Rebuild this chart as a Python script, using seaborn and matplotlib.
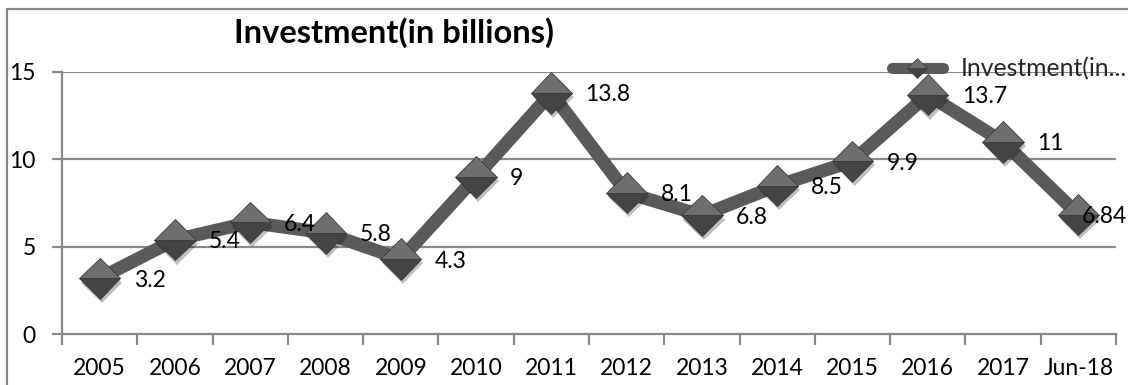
import matplotlib
matplotlib.use("Agg")
import matplotlib.pyplot as plt
from matplotlib.lines import Line2D
from matplotlib.patches import Rectangle
import matplotlib.patheffects as pe
import seaborn as sns
import pandas as pd

# Series data
periods = ["2005", "2006", "2007", "2008", "2009", "2010", "2011",
           "2012", "2013", "2014", "2015", "2016", "2017", "Jun-18"]
investment = [3.2, 5.4, 6.4, 5.8, 4.3, 9, 13.8, 8.1, 6.8, 8.5, 9.9, 13.7, 11, 6.84]
value_labels = ["3.2", "5.4", "6.4", "5.8", "4.3", "9", "13.8", "8.1", "6.8",
                "8.5", "9.9", "13.7", "11", "6.84"]
y_ticks = [0, 5, 10, 15]
series_name = "Investment(in billions)"
legend_text = "Investment(in..."

sns.set_theme(style="white")
plt.rcParams["font.family"] = ["Lato", "DejaVu Sans"]

W, H, DPI = 1128, 385, 100
FS = 16.5
LINE_C = "#5a5a5a"
TOP_C = "#6e6e6e"
BOT_C = "#444444"
AX_C = "#898989"

fig = plt.figure(figsize=(W / DPI, H / DPI), dpi=DPI)
ax = fig.add_axes([62 / W, 1 - 334.3 / H, (1116 - 62) / W, (334.3 - 72) / H])

df = pd.DataFrame({"period": periods, "investment": investment})

# thick connecting line
sns.lineplot(data=df, x="period", y="investment", ax=ax, sort=False,
             color=LINE_C, linewidth=9.5, solid_joinstyle="round",
             solid_capstyle="round", clip_on=False, zorder=3)

# diamond markers with a soft drop shadow
sns.lineplot(data=df, x="period", y="investment", ax=ax, sort=False,
             linestyle="", marker="D", markersize=21,
             fillstyle="top", markerfacecolor=TOP_C,
             markerfacecoloralt=BOT_C, markeredgecolor="#3d3d3d",
             markeredgewidth=0.6, clip_on=False, zorder=4,
             path_effects=[pe.SimplePatchShadow(offset=(1.5, -3), alpha=0.25,
                                                shadow_rgbFace="#000000"),
                           pe.Normal()])

n = len(periods)
ax.set_xlim(-0.5, n - 0.5)
ax.set_ylim(0, 15)
ax.set_yticks(y_ticks)
ax.set_yticklabels([str(t) for t in y_ticks])
ax.set_xticks(range(n))
ax.set_xticklabels(periods)
ax.set_xticks([i - 0.5 for i in range(n + 1)], minor=True)
ax.set_xlabel("")
ax.set_ylabel("")

# gridlines and axes
ax.grid(False)
for t in y_ticks[1:]:
    ax.axhline(t, color=AX_C, linewidth=1.6, zorder=1)
for side in ["top", "right"]:
    ax.spines[side].set_visible(False)
for side in ["left", "bottom"]:
    ax.spines[side].set_color(AX_C)
    ax.spines[side].set_linewidth(1.6)

ax.tick_params(axis="y", which="major", direction="out", length=7, width=1.6,
               color=AX_C, pad=12, labelsize=FS, labelcolor="black", left=True)
ax.tick_params(axis="x", which="major", length=0, pad=17, labelsize=FS,
               labelcolor="black")
ax.tick_params(axis="x", which="minor", direction="out", length=8, width=1.6,
               color=AX_C, bottom=True)

# data labels to the right of each point
anns = []
for i, (v, lab) in enumerate(zip(investment, value_labels)):
    a = ax.annotate(lab, xy=(i, v), xytext=(34, -2), textcoords="offset pixels",
                    ha="left", va="center", fontsize=FS, color="black",
                    zorder=5, annotation_clip=False)
    anns.append(a)

# title
fig.text(394 / W, 1 - 33 / H, series_name, ha="center", va="center",
         fontsize=23.5, fontweight="bold", color="black")

# legend
handle = Line2D([], [], color=LINE_C, linewidth=8, solid_capstyle="round",
                marker="D", markersize=10, fillstyle="top",
                markerfacecolor=TOP_C, markerfacecoloralt=BOT_C,
                markeredgecolor="#3d3d3d", markeredgewidth=0.5)
ax.legend([handle], [legend_text], loc="center left",
          bbox_to_anchor=(892 / W, 1 - 69 / H), bbox_transform=fig.transFigure,
          frameon=False, borderpad=0, borderaxespad=0, handlelength=2.05,
          handletextpad=0.75, fontsize=17.8)

# chart border
fig.patches.append(Rectangle((7 / W, -0.1), 1.2, 1.1 - 9.5 / H,
                             transform=fig.transFigure, fill=False,
                             edgecolor=AX_C, linewidth=1.6))

# keep labels inside the figure
fig.canvas.draw()
for a in anns:
    bb = a.get_window_extent()
    if bb.x1 > W - 1:
        dx = bb.x1 - (W - 1)
        a.xyann = (34 - dx, -2)

fig.savefig("out.png", dpi=DPI)
